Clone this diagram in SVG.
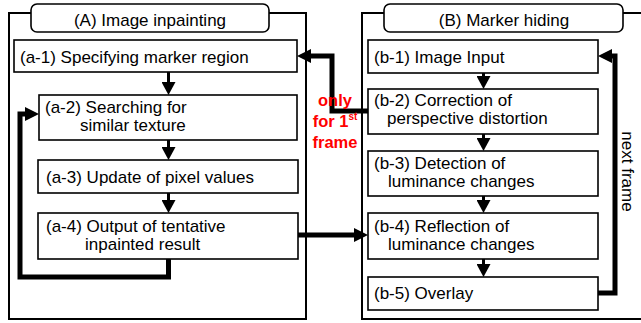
<svg xmlns="http://www.w3.org/2000/svg" width="641" height="323" viewBox="0 0 641 323">
<style>
.box{fill:#fff;stroke:#000;stroke-width:1.6}
.outer{fill:none;stroke:#000;stroke-width:2}
.title{fill:#fff;stroke:#000;stroke-width:1.6}
.t{font-family:"Liberation Sans",Arial,sans-serif;font-size:17px;fill:#000}
.tc{text-anchor:middle}
.red{font-family:"Liberation Sans",Arial,sans-serif;font-size:16.5px;font-weight:bold;fill:#ff0000;text-anchor:middle}
.thick{fill:none;stroke:#000;stroke-width:5;marker-end:url(#ahb)}
.thin{fill:none;stroke:#000;stroke-width:3;marker-end:url(#ah)}
</style>
<defs>
<marker id="ahb" markerUnits="userSpaceOnUse" markerWidth="14" markerHeight="14" refX="0" refY="7" orient="auto" viewBox="0 0 14 14"><path d="M0,0 L14,7 L0,14z" fill="#000"/></marker>
<marker id="ah" markerUnits="userSpaceOnUse" markerWidth="13" markerHeight="14" refX="0" refY="7" orient="auto" viewBox="0 0 13 14"><path d="M0,0 L13,7 L0,14z" fill="#000"/></marker>
</defs>
<rect width="641" height="323" fill="#fff"/>
<g id="groupA">
<rect class="outer" x="9" y="13" width="297" height="306"/>
<rect class="title" x="31" y="4" width="238" height="28" rx="6"/>
<text class="t tc" x="150" y="26">(A) Image inpainting</text>
</g>
<g id="groupB">
<rect class="outer" x="362" y="13" width="300" height="306"/>
<rect class="title" x="384" y="4" width="239" height="28" rx="6"/>
<text class="t tc" x="504" y="26">(B) Marker hiding</text>
</g>
<g id="a1"><rect class="box" x="14" y="40" width="283" height="32"/><text class="t" x="20" y="63">(a-1) Specifying marker region</text></g>
<g id="a2"><rect class="box" x="39" y="95" width="258" height="45"/><text class="t" x="45" y="113">(a-2) Searching for</text><text class="t" x="80" y="131">similar texture</text></g>
<g id="a3"><rect class="box" x="38" y="160" width="260" height="33"/><text class="t" x="46" y="183">(a-3) Update of pixel values</text></g>
<g id="a4"><rect class="box" x="38" y="213" width="260" height="46"/><text class="t" x="46" y="232">(a-4) Output of tentative</text><text class="t" x="85" y="250">inpainted result</text></g>
<g id="b1"><rect class="box" x="368" y="40" width="230" height="33"/><text class="t" x="374" y="63">(b-1) Image Input</text></g>
<g id="b2"><rect class="box" x="368" y="89" width="230" height="45"/><text class="t" x="374" y="106">(b-2) Correction of</text><text class="t" x="387" y="124">perspective distortion</text></g>
<g id="b3"><rect class="box" x="368" y="151" width="230" height="45"/><text class="t" x="374" y="169">(b-3) Detection of</text><text class="t" x="388" y="187">luminance changes</text></g>
<g id="b4"><rect class="box" x="368" y="213" width="230" height="46"/><text class="t" x="374" y="232">(b-4) Reflection of</text><text class="t" x="388" y="250">luminance changes</text></g>
<g id="b5"><rect class="box" x="368" y="277" width="230" height="33"/><text class="t" x="374" y="299">(b-5) Overlay</text></g>
<g id="connectors">
<path class="thin" d="M168.5,72 V82"/>
<path class="thin" d="M168.5,140 V147"/>
<path class="thin" d="M168.5,193 V200"/>
<path class="thick" d="M168.5,259 V277 H20 V114 H25"/>
<path class="thick" d="M368,111 H332 V56 H311"/>
<path class="thick" d="M298,235 H354"/>
<path class="thick" d="M598,293 H615 V56 H612"/>
<path class="thin" d="M483.5,73 V76"/>
<path class="thin" d="M483.5,134 V138"/>
<path class="thin" d="M483.5,196 V200"/>
<path class="thin" d="M483.5,259 V264"/>
</g>
<g id="labels">
<text class="red" x="335" y="106">only</text>
<text class="red" x="335" y="127">for 1<tspan font-size="10" dy="-7">st</tspan></text>
<text class="red" x="335" y="148">frame</text>
<text class="t tc" transform="translate(622,171.5) rotate(90)">next frame</text>
</g>
</svg>
